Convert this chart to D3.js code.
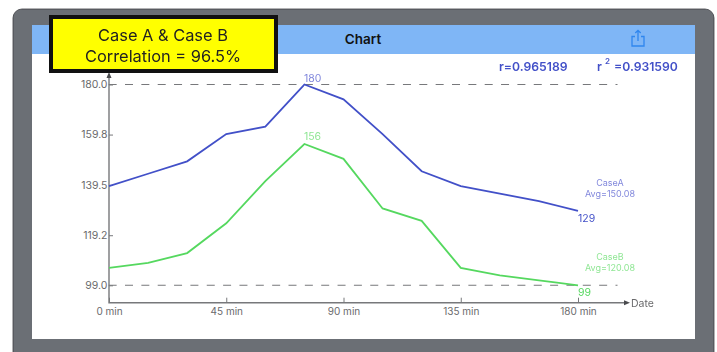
<!DOCTYPE html>
<html>
<head>
<meta charset="utf-8">
<script src="https://cdn.jsdelivr.net/npm/d3@7"></script>
<style>
  html, body { margin: 0; padding: 0; background: #fff; overflow: hidden; }
  svg { display: block; filter: blur(0.35px); }
  text { font-family: Inter, "Liberation Sans", sans-serif; }
</style>
</head>
<body>
<div id="chart"></div>
<script>
// Chart values
const minutes = [0, 15, 30, 45, 60, 75, 90, 105, 120, 135, 150, 165, 180];
const caseA = [139, 144, 149, 160, 163, 180, 174, 160, 145, 139, 136, 133, 129];
const caseB = [106, 108, 112, 124, 141, 156, 150, 130, 125, 106, 103, 101, 99];
const xTicks = [0, 45, 90, 135, 180];
const yTicks = [99.0, 119.2, 139.5, 159.8, 180.0];
const limitLines = [99, 180];

const blue = "#4250c8";
const green = "#55d85f";
const blueLabel = "#8288dc";
const greenLabel = "#8fe694";
const axisColor = "#77787b";
const tickText = "#6a6a6c";

const svg = d3.select("#chart").append("svg")
    .attr("width", 717)
    .attr("height", 352);

// ===================================
// DEVICE FRAME AND NAV BAR
// ===================================

svg.append("rect").attr("x", 13).attr("y", 9).attr("width", 701).attr("height", 360).attr("rx", 9)
    .attr("fill", "#6b6f75").attr("stroke", "#3c3e42").attr("stroke-width", 0.8);
svg.append("rect").attr("x", 32).attr("y", 25).attr("width", 663).attr("height", 314).attr("fill", "#fff");
svg.append("rect").attr("x", 32).attr("y", 25).attr("width", 663).attr("height", 29).attr("fill", "#7fb6f6");

svg.append("text").attr("x", 363).attr("y", 44).attr("text-anchor", "middle")
    .attr("font-size", 13.5).attr("font-weight", 600).attr("fill", "#111").text("Chart");

// share icon
const share = svg.append("g").attr("fill", "none").attr("stroke", "#2f86ee").attr("stroke-width", 1.3);
share.append("path").attr("d", "M635 36.5 h-3 v9.5 h12 v-9.5 h-3");
share.append("path").attr("d", "M638 41 v-10.5 M635.3 33 l2.7 -2.7 l2.7 2.7");

// ===================================
// SCALES AND AXES
// ===================================

const x = d3.scaleLinear().domain([0, 180]).range([109, 578]);
const y = d3.scaleLinear().domain([99, 180]).range([285.3, 84.5]);
const axisY = 302.7;

const xAxis = svg.append("g")
    .attr("transform", `translate(0,${axisY})`)
    .call(d3.axisBottom(x).tickValues(xTicks).tickSizeInner(-5).tickSizeOuter(0).tickPadding(5)
        .tickFormat(d => `${d} min`));
xAxis.select(".domain").remove();
xAxis.selectAll("line").attr("stroke", axisColor);
xAxis.selectAll("text").attr("font-size", 10).attr("fill", tickText)
    .style("font-family", "Inter, 'Liberation Sans', sans-serif");

const yAxis = svg.append("g")
    .attr("transform", "translate(109,0)")
    .call(d3.axisLeft(y).tickValues(yTicks).tickSizeInner(-4).tickSizeOuter(0).tickPadding(1.5)
        .tickFormat(d3.format(".1f")));
yAxis.select(".domain").remove();
yAxis.selectAll("line").attr("stroke", axisColor);
yAxis.selectAll("text").attr("font-size", 10.5).attr("fill", tickText)
    .style("font-family", "Inter, 'Liberation Sans', sans-serif");

// axis lines with arrow heads
svg.append("path").attr("d", `M109 76 V${axisY} H625`)
    .attr("fill", "none").attr("stroke", axisColor).attr("stroke-width", 1.4);
svg.append("path").attr("d", "M109 72 l-2.5 6 h5 z").attr("fill", "#4a4b4e");
svg.append("path").attr("d", `M630 ${axisY} l-6 -2.5 v5 z`).attr("fill", "#4a4b4e");
svg.append("text").attr("x", 631).attr("y", 307).attr("font-size", 10.5).attr("fill", tickText).text("Date");

// dashed limit lines
svg.selectAll(".limit")
    .data(limitLines)
    .join("line")
    .attr("class", "limit")
    .attr("x1", 108.65).attr("x2", 617.5)
    .attr("y1", d => y(d)).attr("y2", d => y(d))
    .attr("stroke", "#77787b").attr("stroke-width", 1.1)
    .attr("stroke-dasharray", "8 8.35");

// ===================================
// SERIES
// ===================================

const line = d3.line().x((d, i) => x(minutes[i])).y(d => y(d));

svg.append("path").attr("d", line(caseA))
    .attr("fill", "none").attr("stroke", blue).attr("stroke-width", 1.8);
svg.append("path").attr("d", line(caseB))
    .attr("fill", "none").attr("stroke", green).attr("stroke-width", 1.8);

// peak and end value labels
function valueLabel(px, py, value, color) {
    svg.append("text").attr("x", px).attr("y", py)
        .attr("font-size", 10.5).attr("fill", color).text(value);
}
valueLabel(x(75) - 0.5, y(180) - 3, d3.max(caseA), blueLabel);
valueLabel(x(75) - 0.5, y(156) - 3.5, d3.max(caseB), greenLabel);
valueLabel(x(180), y(129) + 11, caseA[12], blue);
valueLabel(x(180), y(99) + 11, caseB[12], green);

// legend style averages
function avgLabel(name, avg, ty, color) {
    svg.append("text").attr("x", 610).attr("y", ty).attr("text-anchor", "middle")
        .attr("font-size", 9).attr("fill", color).text(name);
    svg.append("text").attr("x", 610).attr("y", ty + 11.5).attr("text-anchor", "middle")
        .attr("font-size", 9).attr("fill", color).text(`Avg=${d3.format(".2f")(d3.mean(avg))}`);
}
avgLabel("CaseA", caseA, 185.5, blueLabel);
avgLabel("CaseB", caseB, 259.5, greenLabel);

// correlation text top right
svg.append("text").attr("x", 499).attr("y", 71).attr("font-size", 12.2).attr("font-weight", 600)
    .attr("fill", blue).text("r=0.965189");
svg.append("text").attr("x", 597).attr("y", 71).attr("font-size", 12.2).attr("font-weight", 600)
    .attr("fill", blue).text("r");
svg.append("text").attr("x", 605).attr("y", 64).attr("font-size", 8).attr("font-weight", 600)
    .attr("fill", blue).text("2");
svg.append("text").attr("x", 614).attr("y", 71).attr("font-size", 12.2).attr("font-weight", 600)
    .attr("fill", blue).text("=0.931590");

// ===================================
// YELLOW CALLOUT
// ===================================

svg.append("rect").attr("x", 51).attr("y", 17).attr("width", 225).attr("height", 54)
    .attr("fill", "#ffff00").attr("stroke", "#111").attr("stroke-width", 4);
svg.append("text").attr("x", 163).attr("y", 40.5).attr("text-anchor", "middle")
    .attr("font-size", 16.4).attr("fill", "#222").text("Case A & Case B");
svg.append("text").attr("x", 163).attr("y", 62).attr("text-anchor", "middle")
    .attr("font-size", 16.4).attr("fill", "#222").text("Correlation = 96.5%");
</script>
</body>
</html>
